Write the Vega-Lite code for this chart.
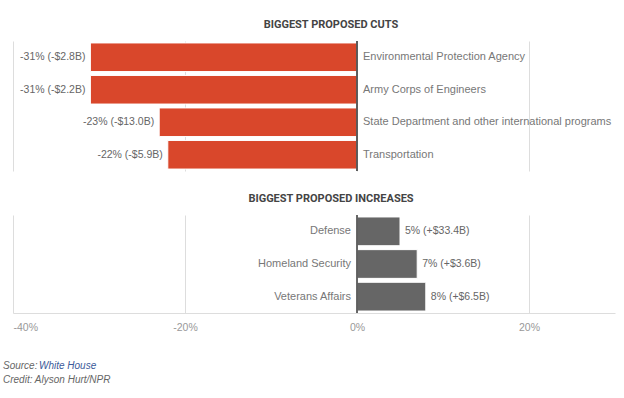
{
  "$schema": "https://vega.github.io/schema/vega-lite/v6.json",
  "padding": {"left": 3, "top": 18, "right": 8, "bottom": 0},
  "background": "white",
  "spacing": 20,
  "config": {
    "view": {"stroke": null},
    "font": "Liberation Sans",
    "title": {"font": "Roboto", "fontSize": 11, "fontWeight": "bold", "color": "#444", "anchor": "middle", "dx": 17, "offset": 11}
  },
  "datasets": {
    "cuts": [
      {"name": "Environmental Protection Agency", "pct": -31, "label": "-31% (-$2.8B)", "order": 1},
      {"name": "Army Corps of Engineers", "pct": -31, "label": "-31% (-$2.2B)", "order": 2},
      {"name": "State Department and other international programs", "pct": -23, "label": "-23% (-$13.0B)", "order": 3},
      {"name": "Transportation", "pct": -22, "label": "-22% (-$5.9B)", "order": 4}
    ],
    "increases": [
      {"name": "Defense", "pct": 5, "label": "5% (+$33.4B)", "order": 1},
      {"name": "Homeland Security", "pct": 7, "label": "7% (+$3.6B)", "order": 2},
      {"name": "Veterans Affairs", "pct": 8, "label": "8% (+$6.5B)", "order": 3}
    ],
    "notes": [
      {"line": "Source", "part": "Source:", "kind": "plain"},
      {"line": "Source", "part": "White House", "kind": "link"},
      {"line": "Credit", "part": "Credit: Alyson Hurt/NPR", "kind": "plain"}
    ]
  },
  "vconcat": [
    {
      "title": "BIGGEST PROPOSED CUTS",
      "width": 602,
      "height": 130,
      "data": {"name": "cuts"},
      "encoding": {
        "y": {"field": "name", "type": "nominal", "sort": {"field": "order"}, "axis": null,
              "scale": {"paddingInner": 0.12, "paddingOuter": 0.06}}
      },
      "layer": [
        {
          "mark": {"type": "bar", "color": "#d9472b", "stroke": "white", "strokeWidth": 1},
          "encoding": {
            "x": {"field": "pct", "type": "quantitative", "scale": {"domain": [-40, 30], "nice": false, "zero": true},
                  "axis": {"values": [-40, -20, 0, 20], "grid": true, "gridColor": "#dddddd", "labels": false, "ticks": false, "domain": false, "title": null}}
          }
        },
        {
          "mark": {"type": "rule", "color": "#555", "strokeWidth": 1},
          "encoding": {"x": {"datum": 0, "type": "quantitative"}, "y": null}
        },
        {
          "mark": {"type": "text", "align": "left", "dx": 6, "fontSize": 11, "color": "#777"},
          "encoding": {"x": {"datum": 0, "type": "quantitative"}, "text": {"field": "name"}}
        },
        {
          "mark": {"type": "text", "align": "right", "dx": -5, "fontSize": 10.5, "color": "#666"},
          "encoding": {"x": {"field": "pct", "type": "quantitative"}, "text": {"field": "label"}}
        }
      ]
    },
    {
      "title": "BIGGEST PROPOSED INCREASES",
      "width": 602,
      "height": 98,
      "data": {"name": "increases"},
      "encoding": {
        "y": {"field": "name", "type": "nominal", "sort": {"field": "order"}, "axis": null,
              "scale": {"paddingInner": 0.12, "paddingOuter": 0.06}}
      },
      "layer": [
        {
          "mark": {"type": "bar", "color": "#666666", "stroke": "white", "strokeWidth": 1},
          "encoding": {
            "x": {"field": "pct", "type": "quantitative", "scale": {"domain": [-40, 30], "nice": false, "zero": true},
                  "axis": {"values": [-40, -20, 0, 20], "grid": true, "gridColor": "#dddddd", "ticks": false, "domain": true, "domainColor": "#dddddd",
                           "labelExpr": "datum.value + '%'", "labelColor": "#999", "labelFontSize": 10.5, "labelPadding": 9, "title": null}}
          }
        },
        {
          "mark": {"type": "rule", "color": "#555", "strokeWidth": 1},
          "encoding": {"x": {"datum": 0, "type": "quantitative"}, "y": null}
        },
        {
          "mark": {"type": "text", "align": "right", "dx": -6, "fontSize": 11, "color": "#777"},
          "encoding": {"x": {"datum": 0, "type": "quantitative"}, "text": {"field": "name"}}
        },
        {
          "mark": {"type": "text", "align": "left", "dx": 5, "fontSize": 10.5, "color": "#666"},
          "encoding": {"x": {"field": "pct", "type": "quantitative"}, "text": {"field": "label"}}
        }
      ]
    },
    {
      "width": 602,
      "height": 40,
      "data": {"name": "notes"},
      "encoding": {
        "y": {"field": "line", "type": "nominal", "axis": null,
              "scale": {"type": "point", "domain": ["Source", "Credit"], "padding": 1.05}}
      },
      "layer": [
        {
          "transform": [{"filter": "datum.kind === 'plain'"}],
          "mark": {"type": "text", "align": "left", "fontSize": 10, "fontStyle": "italic", "color": "#666"},
          "encoding": {"x": {"value": -10}, "text": {"field": "part"}}
        },
        {
          "transform": [{"filter": "datum.kind === 'link'"}],
          "mark": {"type": "text", "align": "left", "fontSize": 10, "fontStyle": "italic", "color": "#3b5a9a"},
          "encoding": {"x": {"value": 26}, "text": {"field": "part"}}
        }
      ]
    }
  ]
}
